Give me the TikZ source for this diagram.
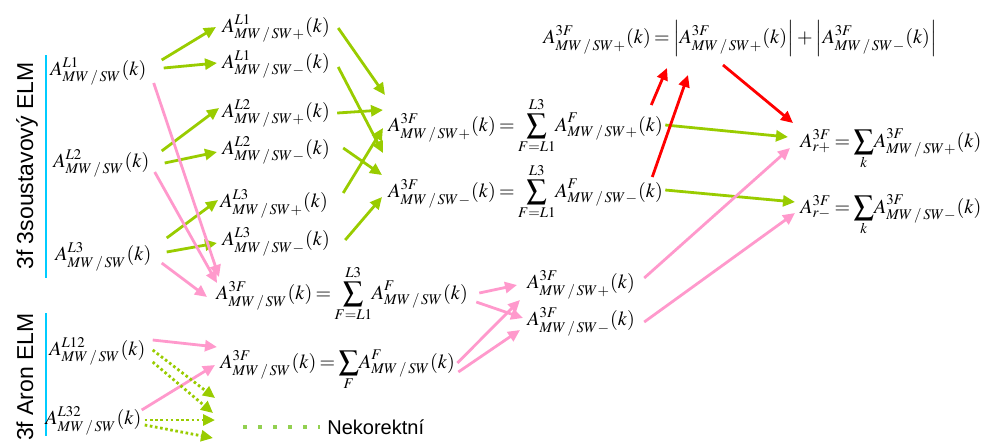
\documentclass[tikz,border=0pt]{standalone}
\usepackage{mathptmx}
\usepackage{fontspec}
\setmainfont{Liberation Serif}
\setsansfont{Liberation Sans}
\usetikzlibrary{arrows.meta}
\definecolor{elmgreen}{RGB}{153,204,0}
\definecolor{elmpink}{RGB}{255,153,204}
\definecolor{elmred}{RGB}{255,0,0}
\definecolor{elmcyan}{RGB}{0,204,255}
\definecolor{leggreen}{RGB}{146,208,80}
\newcommand{\amw}[2]{A^{#1}_{MW\,/\,SW#2}(k)}
\thickmuskip=3mu plus 2mu
\medmuskip=3mu plus 1mu
\begin{document}
\begin{tikzpicture}[x=0.5pt,y=-0.5pt,line join=round,
  eq/.style={inner sep=0pt,anchor=base west,font=\fontsize{10}{12}\selectfont},
  elm/.style={rotate=90,anchor=base,inner sep=0pt,font=\sffamily\fontsize{11.5}{13}\selectfont},
  grn/.style={draw=elmgreen,line width=1.4pt,-{Triangle[length=6pt,width=5.5pt]}},
  pnk/.style={draw=elmpink,line width=1.4pt,-{Triangle[length=6pt,width=5.5pt]}},
  rd/.style={draw=elmred,line width=1.4pt,-{Triangle[length=6pt,width=5.5pt]}},
  wrong/.style={draw=elmgreen,line width=1.4pt,dash pattern=on 1.3pt off 1.3pt,-{Triangle[length=6pt,width=5.5pt]}}]
\useasboundingbox (0,0) rectangle (990,441);

% ---- left column: the two ELM groups ----
\draw[elmcyan,line width=1.2pt] (46,55) -- (46,278);
\draw[elmcyan,line width=1.2pt] (46,313) -- (46,436);
\node[elm] (lab3s) at (33,166) {3f 3soustavový ELM};
\node[elm] (labaron) at (33,377) {3f Aron ELM};

\node[eq] (L1) at (50,75) {$\amw{L1}{}$};
\node[eq] (L2) at (53,167) {$\amw{L2}{}$};
\node[eq] (L3) at (55,260) {$\amw{L3}{}$};
\node[eq] (L12) at (49,355) {$\amw{L12}{}$};
\node[eq] (L32) at (45,424) {$\amw{L32}{}$};

% ---- split into + and - ----
\node[eq] (L1p) at (222,32) {$\amw{L1}{+}$};
\node[eq] (L1m) at (222,68) {$\amw{L1}{-}$};
\node[eq] (L2p) at (222,117) {$\amw{L2}{+}$};
\node[eq] (L2m) at (222,154) {$\amw{L2}{-}$};
\node[eq] (L3p) at (220,207) {$\amw{L3}{+}$};
\node[eq] (L3m) at (222,245) {$\amw{L3}{-}$};

% ---- sums ----
\node[eq] (Sp) at (388,131) {$\amw{3F}{+} = \displaystyle\sum_{F=L1}^{L3}\!\amw{F}{+}$};
\node[eq] (Sm) at (388,197) {$\amw{3F}{-} = \displaystyle\sum_{F=L1}^{L3}\!\amw{F}{-}$};
\node[eq] (Tot) at (216,299) {$\amw{3F}{} = \displaystyle\sum_{F=L1}^{L3}\!\amw{F}{}$};
\node[eq] (Aron) at (220,368) {$\amw{3F}{} = \displaystyle\sum_{F}\!\amw{F}{}$};
\node[eq] (Pp) at (527,288) {$\amw{3F}{+}$};
\node[eq] (Pm) at (527,325) {$\amw{3F}{-}$};
\node[eq] (Top) at (543,43) {$\amw{3F}{+} = \left|\amw{3F}{+}\right| + \left|\amw{3F}{-}\right|$};
\node[eq] (Rp) at (800,147) {$A^{3F}_{r+} = \displaystyle\sum_{k}\!\amw{3F}{+}$};
\node[eq] (Rm) at (800,213) {$A^{3F}_{r-} = \displaystyle\sum_{k}\!\amw{3F}{-}$};

% ---- green arrows ----
\draw[grn] ([shift={(15,-15)}]L1.base east) -- ([shift={(-6,-5)}]L1p.base west);
\draw[grn] ([shift={(17,-7)}]L1.base east) -- ([shift={(-5,-5)}]L1m.base west);
\draw[grn] ([shift={(12,-16)}]L2.base east) -- ([shift={(-3,-9)}]L2p.base west);
\draw[grn] ([shift={(15,-4)}]L2.base east) -- ([shift={(-5,-2)}]L2m.base west);
\draw[grn] ([shift={(15,-22)}]L3.base east) -- ([shift={(-2,-7)}]L3p.base west);
\draw[grn] ([shift={(15,-8)}]L3.base east) -- ([shift={(-5,-2)}]L3m.base west);

\draw[grn] ([shift={(8,-4)}]L1p.base east) -- ([shift={(-3,-36)}]Sp.base west);
\draw[grn] ([shift={(8,-1)}]L1m.base east) -- ([shift={(-5,-44)}]Sm.base west);
\draw[grn] ([shift={(7,-4)}]L2p.base east) -- ([shift={(-5,-21)}]Sp.base west);
\draw[grn] ([shift={(13,-6)}]L2m.base east) -- ([shift={(-6,-22)}]Sm.base west);
\draw[grn] ([shift={(15,-14)}]L3p.base east) -- ([shift={(-5,-3)}]Sp.base west);
\draw[grn] ([shift={(15,-5)}]L3m.base east) -- ([shift={(-6,0)}]Sm.base west);

\draw[grn] ([shift={(2,-6)}]Sp.base east) -- ([shift={(-12,-10)}]Rp.base west);
\draw[grn] ([shift={(2,-7)}]Sm.base east) -- ([shift={(-5,-11)}]Rm.base west);

% ---- red arrows ----
\draw[rd] ([shift={(-12,-26)}]Sp.base east) -- ([shift={(124,25)}]Top.base west);
\draw[rd] ([shift={(-11,-20)}]Sm.base east) -- ([shift={(145,32)}]Top.base west);
\draw[rd] ([shift={(180,22)}]Top.base west) -- ([shift={(-7,-24)}]Rp.base west);

% ---- pink arrows ----
\draw[pnk] ([shift={(7,8)}]L1.base east) -- ([shift={(3,-22)}]Tot.base west);
\draw[pnk] ([shift={(5,5)}]L2.base east) -- ([shift={(1,-16)}]Tot.base west);
\draw[pnk] ([shift={(10,3)}]L3.base east) -- ([shift={(-9,-2)}]Tot.base west);
\draw[pnk] ([shift={(7,-15)}]L12.base east) -- ([shift={(-3,-21)}]Aron.base west);
\draw[pnk] ([shift={(0,-14)}]L32.base east) -- ([shift={(-5,-3)}]Aron.base west);
\draw[pnk] ([shift={(11,-6)}]Tot.base east) -- ([shift={(-10,-3)}]Pp.base west);
\draw[pnk] ([shift={(8,3)}]Tot.base east) -- ([shift={(-4,-7)}]Pm.base west);
\draw[pnk] ([shift={(2,-5)}]Aron.base east) -- ([shift={(-7,12)}]Pp.base west);
\draw[pnk] ([shift={(3,4)}]Aron.base east) -- ([shift={(-7,5)}]Pm.base west);
\draw[pnk] ([shift={(9,-10)}]Pp.base east) -- ([shift={(-10,1)}]Rp.base west);
\draw[pnk] ([shift={(9,-3)}]Pm.base east) -- ([shift={(-5,0)}]Rm.base west);

% ---- dotted (wrong) arrows and legend ----
\coordinate (w1) at (215,398);
\coordinate (w2) at (213,413);
\coordinate (w3) at (215,420);
\coordinate (w4) at (213,438);
\draw[wrong] ([shift={(7,-5)}]L12.base east) -- (w1);
\draw[wrong] ([shift={(7,7)}]L12.base east) -- (w2);
\draw[wrong] ([shift={(3,-4)}]L32.base east) -- (w3);
\draw[wrong] ([shift={(3,1)}]L32.base east) -- (w4);

\coordinate (legs) at (243,427);
\node[anchor=west,inner sep=0pt,font=\sffamily\fontsize{10}{12}\selectfont] (nek) at (327,427) {Nekorektní};
\draw[leggreen,line width=2pt,dash pattern=on 2pt off 5.5pt] (legs) -- ([shift={(-7,0)}]nek.west);
\end{tikzpicture}
\end{document}
